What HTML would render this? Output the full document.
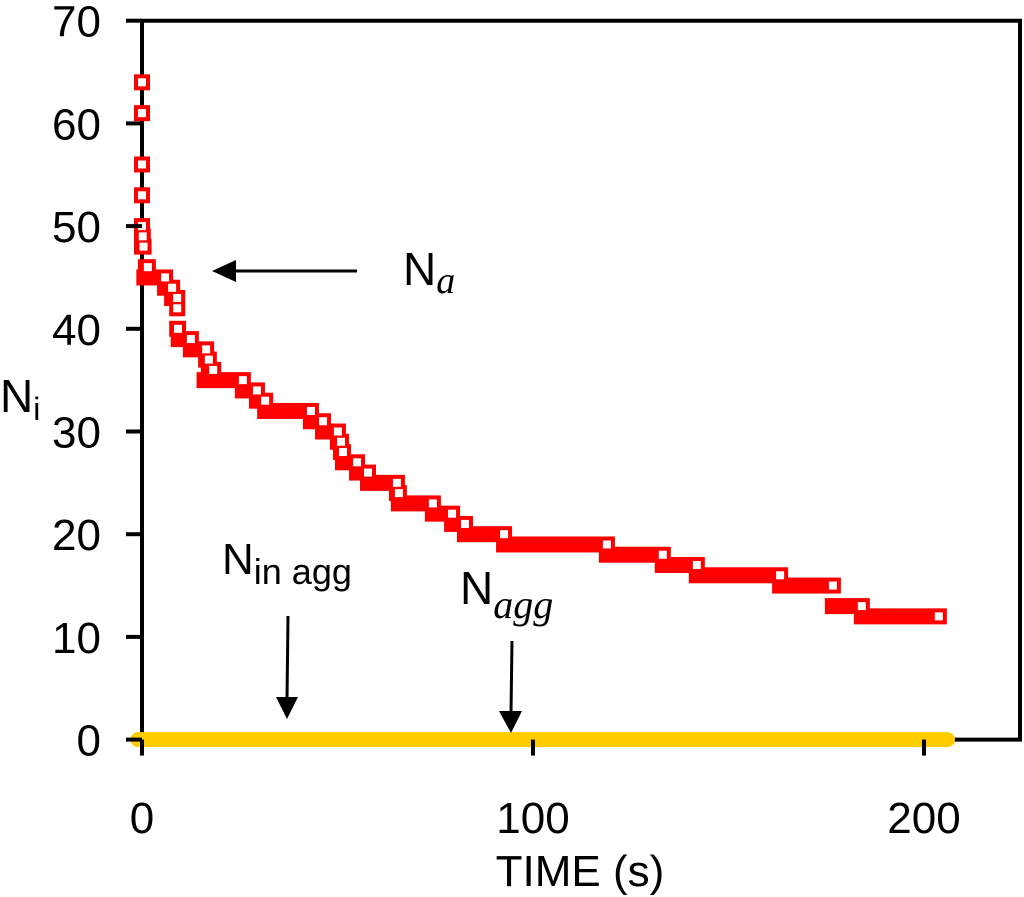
<!DOCTYPE html>
<html><head><meta charset="utf-8"><style>
html,body{margin:0;padding:0;background:#fff;}
svg{display:block;font-family:"Liberation Sans",Arial,sans-serif;}
</style></head><body>
<svg id="chart" width="1024" height="897" viewBox="0 0 1024 897">
<g id="frame"></g>
<g id="marks"></g>
<g id="axes"></g>
<text x="0" y="412" font-size="46">N<tspan font-size="32" dy="8">i</tspan></text>
<text x="580" y="886" font-size="44" text-anchor="middle">TIME (s)</text>
<g>
<line x1="357" y1="271" x2="235" y2="271" stroke="#000" stroke-width="3"/>
<polygon points="212,271 236,260 236,282" fill="#000"/>
<text x="403" y="285" font-size="46">N<tspan font-family="Liberation Serif" font-style="italic" font-size="38" dy="8">a</tspan></text>
</g>
<g>
<text x="222" y="574" font-size="44">N<tspan font-size="36" dy="10">in agg</tspan></text>
<line x1="288" y1="616" x2="287" y2="700" stroke="#000" stroke-width="3"/>
<polygon points="276,697 298,697 287,719" fill="#000"/>
</g>
<g>
<text x="460" y="604" font-size="46">N<tspan font-family="Liberation Serif" font-style="italic" font-size="40" dy="14">agg</tspan></text>
<line x1="512" y1="641" x2="511" y2="713" stroke="#000" stroke-width="3"/>
<polygon points="499,711 522,711 511,733" fill="#000"/>
</g>
</svg>
<script>
const levelValues=[64,61,56,53,50,49,48,46,45,44,43,42,40,39,38,37,36,35,34,33,32,31,30,29,28,27,26,25,24,23,22,21,20,19,18,17,16,15,13,12];
const levelEnds=[0,0,0,0,0,0.2,0.4,1.5,5.9,7.7,9.0,9.0,9.2,12.5,16.4,17.1,18.2,25.8,29.4,31.5,43.2,46.3,50.1,50.9,51.4,55,57.8,65.2,65.7,74.4,79.3,82.6,92.6,118.9,133.2,141.9,163.2,176.7,184.1,203.8];
const levelStarts=[0,0,0,0,0,0,0,1.0,0.6,5.9,7.7,9.0,9.0,9.4,12.5,16.4,17.1,16.0,25.8,29.4,31.5,43.2,46.3,50.1,50.9,51.4,55,57.8,65.2,65.7,74.4,79.3,82.6,92.6,118.9,133.2,141.9,163.2,176.7,184.1];
const aggTimes=[0,206];
const aggValues=[0,0];
const xTicks=[0,100,200];
const yTicks=[0,10,20,30,40,50,60,70];
const NS='http://www.w3.org/2000/svg';
const X=t=>142+t*3.91, Y=v=>739.6-v*10.27;
function mk(tag,attrs,parent){const e=document.createElementNS(NS,tag);for(const k in attrs)e.setAttribute(k,attrs[k]);parent.appendChild(e);return e;}
const frame=document.getElementById('frame'),marks=document.getElementById('marks'),axes=document.getElementById('axes');
const fr=mk('path',{d:`M142 ${Y(70)} H1020 V${Y(0)} H142 Z`,fill:'none',stroke:'#000','stroke-width':4},frame);


const al=mk('line',{x1:X(aggTimes[0])-4,y1:Y(aggValues[0]),x2:X(aggTimes[1]),y2:Y(aggValues[1]),stroke:'#ffcc00','stroke-width':15,'stroke-linecap':'round'},marks);


for(let i=0;i<levelValues.length;i++){
 const x0=X(levelStarts[i])-8,x1=X(levelEnds[i])+8,yc=Y(levelValues[i]);
 const r=mk('rect',{x:x0,y:yc-8,width:x1-x0,height:16,fill:'#ff0000'},marks);
 
 
}
for(let i=0;i<levelValues.length;i++){
 const r=mk('rect',{x:X(levelEnds[i])-4,y:Y(levelValues[i])-4,width:8,height:8,fill:'#fff'},marks);
 
 
}
yTicks.forEach(v=>{
 const l=mk('line',{x1:126,x2:142,y1:Y(v),y2:Y(v),stroke:'#000','stroke-width':4},axes);
 
 
 const t=mk('text',{x:101,y:Y(v)+16,'font-size':44,'text-anchor':'end'},axes);t.textContent=v;
 
 
});
xTicks.forEach(v=>{
 const l=mk('line',{x1:X(v),x2:X(v),y1:Y(0),y2:Y(0)+16,stroke:'#000','stroke-width':4},axes);
 
 
 const t=mk('text',{x:X(v),y:833,'font-size':44,'text-anchor':'middle'},axes);t.textContent=v;
 
 
});
</script>
</body></html>
